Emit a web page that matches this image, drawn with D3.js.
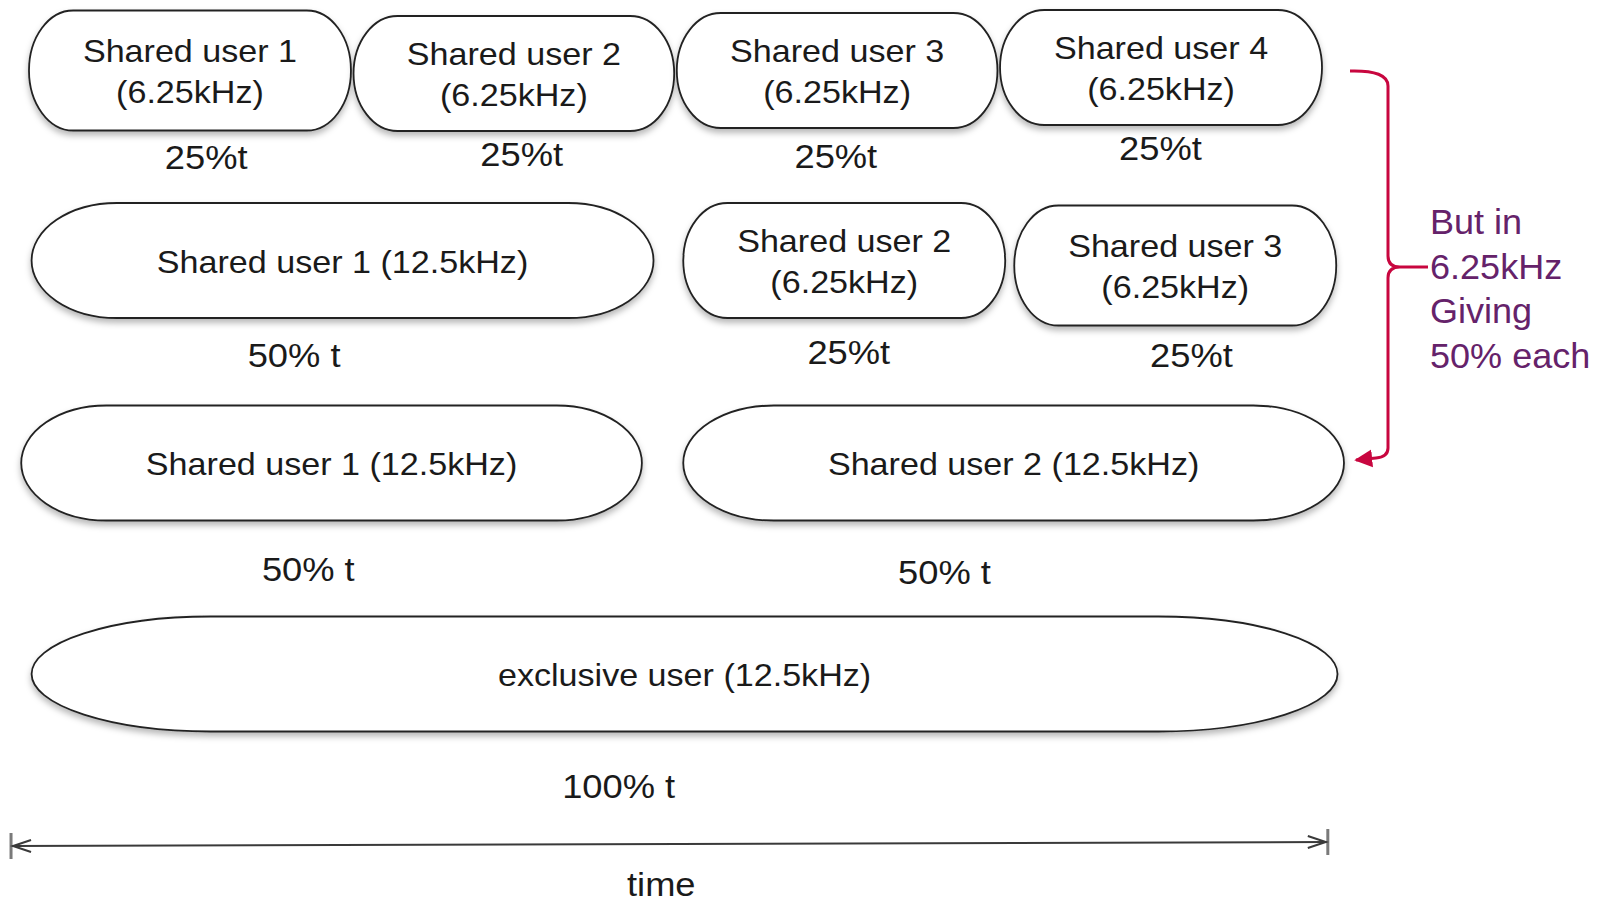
<!DOCTYPE html>
<html>
<head>
<meta charset="utf-8">
<script src="https://cdn.jsdelivr.net/npm/d3@7"></script>
<style>
  body { margin: 0; background: #fff; }
  svg text { font-family: "Liberation Sans", Arial, sans-serif; }
</style>
</head>
<body>
<script>
// --- data: share of air time per user, in % of t ---
var rowKeys = ["quarter", "mixed", "half", "exclusive"];

var boxRow   = ["quarter", "quarter", "quarter", "quarter", "mixed", "mixed", "mixed", "half", "half", "exclusive"];
var boxName  = ["Shared user 1", "Shared user 2", "Shared user 3", "Shared user 4",
                "Shared user 1", "Shared user 2", "Shared user 3",
                "Shared user 1", "Shared user 2", "exclusive user"];
var boxBand  = ["6.25kHz", "6.25kHz", "6.25kHz", "6.25kHz", "12.5kHz", "6.25kHz", "6.25kHz", "12.5kHz", "12.5kHz", "12.5kHz"];
var boxStart = [0, 25.1, 50.1, 75.1, 0.2, 50.6, 76.2, -0.6, 50.6, 0.2];
var boxEnd   = [24.9, 49.9, 74.9, 100, 48.3, 75.5, 101.1, 47.4, 101.7, 101.2];
var boxTwoLines = [true, true, true, true, false, true, true, false, false, false];

var labelRow  = ["quarter", "quarter", "quarter", "quarter", "mixed", "mixed", "mixed", "half", "half", "exclusive"];
var labelText = ["25%t", "25%t", "25%t", "25%t", "50% t", "25%t", "25%t", "50% t", "50% t", "100% t"];
var labelAt   = [13.7, 38.1, 62.4, 87.5, 20.5, 63.4, 89.9, 21.6, 70.8, 45.6];

var noteLines = ["But in", "6.25kHz", "Giving", "50% each"];
var axisLabel = "time";

// --- layout ---
var width = 1608, height = 903;
var rowY = [70.5, 260.5, 463, 674];
var labelDy = [86.5, 83.5, 85.5, 77.5, 94.5, 91.5, 94.5, 106, 109, 112];
var boxDy = [0, 3, 0, -3, 0, 0, 5, 0, 0, 0];
var boxDh = [5, 0, 0, 0, 0, 0, 5, 0, 0, 0];
var boxH = 115;

var x = d3.scaleLinear().domain([0, 100]).range([29, 1322]);
var y = d3.scaleOrdinal().domain(rowKeys).range(rowY);

var svg = d3.select("body").append("svg")
    .attr("width", width)
    .attr("height", height);

var defs = svg.append("defs");
var shadow = defs.append("filter")
    .attr("id", "shadow")
    .attr("x", "-10%").attr("y", "-20%")
    .attr("width", "120%").attr("height", "150%");
shadow.append("feDropShadow")
    .attr("dx", 0).attr("dy", 4)
    .attr("stdDeviation", 3)
    .attr("flood-color", "#000")
    .attr("flood-opacity", 0.28);

defs.append("marker")
    .attr("id", "redHead")
    .attr("viewBox", "0 0 10 10")
    .attr("refX", 9).attr("refY", 5)
    .attr("markerWidth", 6).attr("markerHeight", 8)
    .attr("markerUnits", "strokeWidth")
    .attr("orient", "auto")
    .append("path")
    .attr("d", "M0,0 L10,5 L0,10 Z")
    .attr("fill", "#c8063f");

var boxes = boxName.map(function (n, i) {
    return {
        name: n, band: boxBand[i], row: boxRow[i], start: boxStart[i], end: boxEnd[i],
        two: boxTwoLines[i], dy: boxDy[i], dh: boxDh[i]
    };
});

var g = svg.selectAll(".box")
    .data(boxes)
    .enter()
    .append("g")
    .attr("class", "box");

g.append("rect")
    .attr("x", d => x(d.start))
    .attr("y", d => y(d.row) + d.dy - (boxH + d.dh) / 2)
    .attr("width", d => x(d.end) - x(d.start))
    .attr("height", d => boxH + d.dh)
    .attr("rx", d => 0.137 * (x(d.end) - x(d.start)))
    .attr("ry", d => (boxH + d.dh) / 2)
    .attr("fill", "#fff")
    .attr("stroke", "#222")
    .attr("stroke-width", 1.8)
    .attr("filter", "url(#shadow)");

// box captions, slightly stretched to match the wide face of the original
function boxLines(d) {
    return d.two ? [d.name, "(" + d.band + ")"] : [d.name + " (" + d.band + ")"];
}

g.each(function (d) {
    var cx = (x(d.start) + x(d.end)) / 2;
    var cy = y(d.row) + d.dy;
    var lines = boxLines(d);
    var base = lines.length === 2 ? [cy - 9, cy + 32] : [cy + 12];
    d3.select(this).selectAll("text")
        .data(lines)
        .enter()
        .append("text")
        .attr("transform", (t, i) => `translate(${cx}, ${base[i]}) scale(1.1, 1)`)
        .attr("text-anchor", "middle")
        .attr("font-size", 31)
        .attr("fill", "#1a1a1a")
        .text(t => t);
});

// share labels under the boxes
svg.selectAll(".share")
    .data(labelText.map((t, i) => ({ text: t, row: labelRow[i], at: labelAt[i], dy: labelDy[i] })))
    .enter()
    .append("text")
    .attr("class", "share")
    .attr("transform", d => `translate(${x(d.at)}, ${y(d.row) + d.dy + 12}) scale(1.1, 1)`)
    .attr("text-anchor", "middle")
    .attr("font-size", 33)
    .attr("fill", "#1a1a1a")
    .text(d => d.text);

// time axis with end bars and open arrow heads
var axisY0 = 846, axisY1 = 842;
var tx0 = x(-1.39), tx1 = x(100.45);
var axisG = svg.append("g");
axisG.append("line")
    .attr("x1", tx0).attr("y1", axisY0)
    .attr("x2", tx1).attr("y2", axisY1)
    .attr("stroke", "#3a3a3a")
    .attr("stroke-width", 2);
[[tx0, axisY0, 1], [tx1, axisY1, -1]].forEach(function (e) {
    axisG.append("line")
        .attr("x1", e[0]).attr("x2", e[0])
        .attr("y1", e[1] - 13).attr("y2", e[1] + 13)
        .attr("stroke", "#7a7a7a")
        .attr("stroke-width", 3);
    axisG.append("path")
        .attr("d", `M${e[0] + e[2] * 20},${e[1] - 6} L${e[0] + e[2] * 2},${e[1]} L${e[0] + e[2] * 20},${e[1] + 6}`)
        .attr("fill", "none")
        .attr("stroke", "#3a3a3a")
        .attr("stroke-width", 2);
});
axisG.append("text")
    .attr("transform", `translate(${x(48.9)}, 896) scale(1.1, 1)`)
    .attr("text-anchor", "middle")
    .attr("font-size", 33)
    .attr("fill", "#1a1a1a")
    .text(axisLabel);

// red brace pointing from the quarter rows to the half row
var bx = 1388;
svg.append("path")
    .attr("d", `M1350,71 Q${bx},70 ${bx},86 L${bx},256 Q${bx},267 1400,267 L1428,267
                M1400,267 Q${bx},267 ${bx},278 L${bx},448 Q${bx},457 1376,458 L1356,460`)
    .attr("fill", "none")
    .attr("stroke", "#c8063f")
    .attr("stroke-width", 3)
    .attr("marker-end", "url(#redHead)");

svg.append("g")
    .selectAll("text")
    .data(noteLines)
    .enter()
    .append("text")
    .attr("transform", (t, i) => `translate(1430, ${234 + i * 44.5}) scale(1.03, 1)`)
    .attr("font-size", 35)
    .attr("fill", "#65226a")
    .text(t => t);
</script>
</body>
</html>
